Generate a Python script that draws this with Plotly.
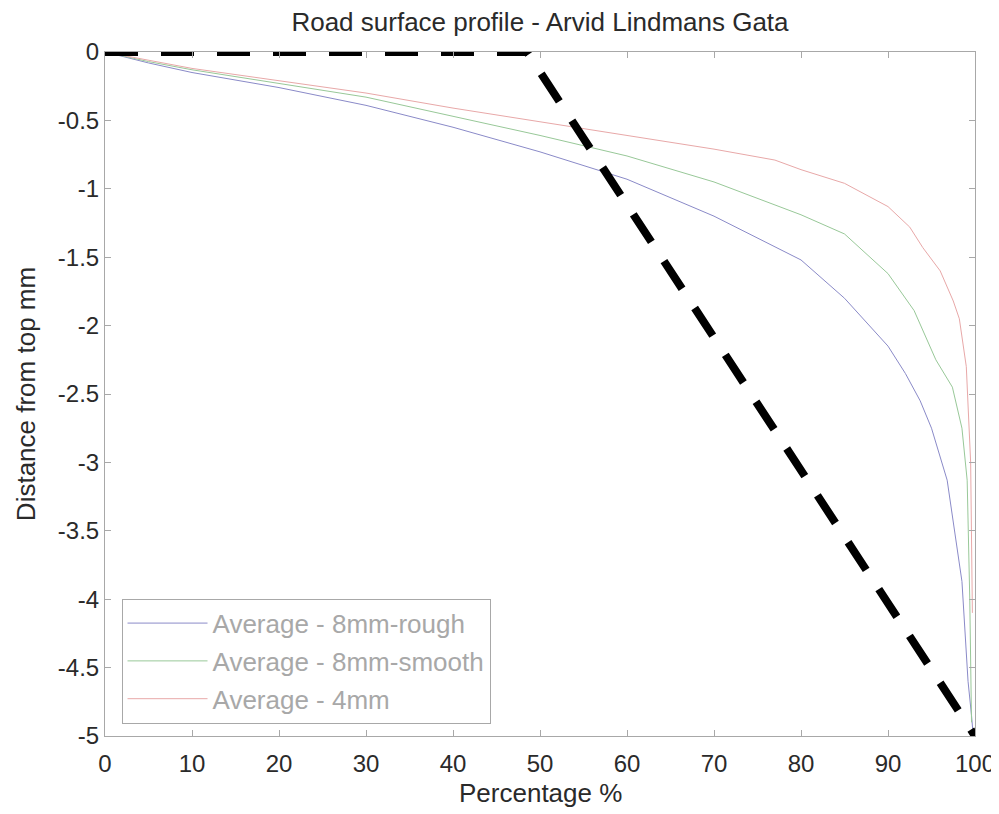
"""Road surface profile - Arvid Lindmans Gata (Plotly recreation)."""

import plotly.graph_objects as go

# --- data ---
rough_x = [0, 5, 10, 20, 30, 40, 50, 60, 70, 80, 85, 90, 92, 93.7, 95, 96.8, 98.5, 99.2, 99.6, 99.8]
rough_y = [0, -0.08, -0.15, -0.26, -0.39, -0.55, -0.73, -0.93, -1.2, -1.52, -1.8, -2.15, -2.35,
           -2.55, -2.75, -3.13, -3.87, -4.6, -4.85, -5.0]

smooth_x = [0, 5, 10, 20, 30, 40, 50, 60, 70, 80, 85, 90, 93, 95.5, 97.4, 98.5, 99.1, 99.4, 99.6]
smooth_y = [0, -0.07, -0.13, -0.23, -0.33, -0.47, -0.61, -0.76, -0.95, -1.19, -1.33, -1.62,
            -1.89, -2.25, -2.45, -2.75, -3.13, -4.0, -4.9]

fine_x = [0, 5, 10, 20, 30, 40, 50, 60, 70, 77, 80, 85, 90, 92.5, 94, 96, 97.5, 98.2, 99, 99.5, 99.7]
fine_y = [0, -0.06, -0.12, -0.21, -0.3, -0.41, -0.51, -0.61, -0.71, -0.79, -0.86, -0.96, -1.13,
          -1.28, -1.43, -1.6, -1.82, -1.95, -2.3, -3.0, -4.1]

limit_x = [0, 48.5, 100]
limit_y = [0, 0, -5]

x_ticks = [0, 10, 20, 30, 40, 50, 60, 70, 80, 90, 100]
y_ticks = [0, -0.5, -1, -1.5, -2, -2.5, -3, -3.5, -4, -4.5, -5]
y_tick_text = ["0", "-0.5", "-1", "-1.5", "-2", "-2.5", "-3", "-3.5", "-4", "-4.5", "-5"]

FONT = "Liberation Sans"
AXIS_GREY = "#a8a8a8"
TEXT = "#2a2a2a"

fig = go.Figure()
fig.add_trace(go.Scatter(x=rough_x, y=rough_y, mode="lines", name="Average - 8mm-rough",
                         legendgroup="a", line=dict(color="#8a8ac8", width=1)))
fig.add_trace(go.Scatter(x=smooth_x, y=smooth_y, mode="lines", name="Average - 8mm-smooth",
                         legendgroup="b", line=dict(color="#98c898", width=1)))
fig.add_trace(go.Scatter(x=fine_x, y=fine_y, mode="lines", name="Average - 4mm",
                         legendgroup="c", line=dict(color="#e8a8a8", width=1)))
fig.add_trace(go.Scatter(x=limit_x, y=limit_y, mode="lines", showlegend=False,
                         line=dict(color="black", width=8, dash="33px,23px")))

# page body adds an 8px offset, margins are set against that
fig.update_layout(
    width=999,
    height=814,
    paper_bgcolor="white",
    plot_bgcolor="white",
    margin=dict(l=97, r=32, t=44, b=86, autoexpand=False),
    font=dict(family=FONT, size=22, color=TEXT),
    title=dict(text="Road surface profile - Arvid Lindmans Gata", x=0.5, xanchor="center",
               xref="paper", y=0.983, yanchor="middle", font=dict(size=26, color=TEXT)),
    legend=dict(x=0.019, y=0.018, xanchor="left", yanchor="bottom", bgcolor="white",
                bordercolor=AXIS_GREY, borderwidth=1, itemwidth=80, tracegroupgap=1,
                font=dict(size=26, color="#a8a8a8")),
    showlegend=True,
)
fig.update_xaxes(
    range=[0, 100], tickvals=x_ticks, ticks="inside", ticklen=6, tickcolor=AXIS_GREY,
    showline=True, linecolor=AXIS_GREY, linewidth=1, mirror="ticks", showgrid=False,
    zeroline=False, automargin=False, tickfont=dict(size=24), ticklabelstandoff=6,
)
fig.update_yaxes(
    range=[-5, 0], tickvals=y_ticks, ticktext=y_tick_text, ticks="inside", ticklen=6,
    tickcolor=AXIS_GREY, showline=True, linecolor=AXIS_GREY, linewidth=1, mirror="ticks",
    showgrid=False, zeroline=True, zerolinecolor="black", zerolinewidth=2, automargin=False,
    title=dict(text="Distance from top mm", standoff=14), tickfont=dict(size=24),
)
fig.add_annotation(text="Percentage %", xref="paper", yref="paper", x=0.5, y=0,
                   xanchor="center", yanchor="top", yshift=-40, showarrow=False,
                   font=dict(family=FONT, size=26, color=TEXT))

fig.write_html("out.html")
